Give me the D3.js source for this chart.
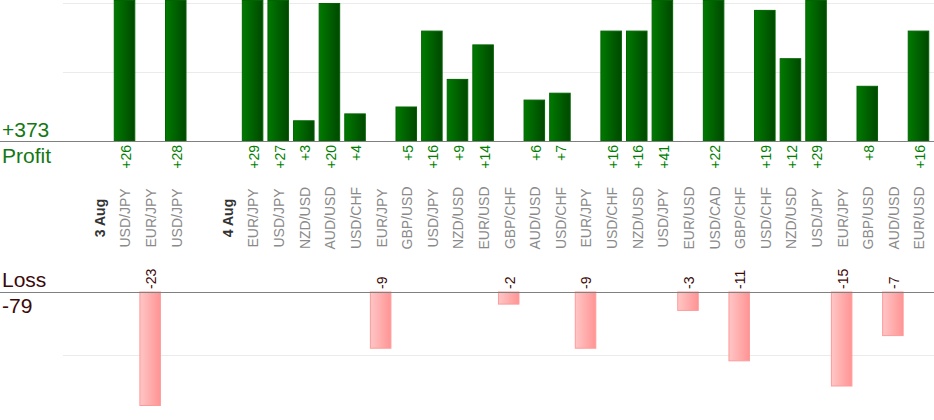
<!DOCTYPE html>
<html>

<head>
    <meta charset="utf-8">
    <title>Profit and Loss by Trade</title>
    <script src="https://d3js.org/d3.v7.min.js"></script>
    <style>
        body { margin: 0; background: #fff; }
        text { font-family: "Liberation Sans", Arial, sans-serif; }
    </style>
</head>

<body>
    <div id="chart"></div>

    <script>
        // slots along the x axis: blanks, date headers and trades
        const slotLabels = ["", "3 Aug", "USD/JPY", "EUR/JPY", "USD/JPY",
            "", "4 Aug", "EUR/JPY", "USD/JPY", "NZD/USD", "AUD/USD", "USD/CHF",
            "EUR/JPY", "GBP/USD", "USD/JPY", "NZD/USD", "EUR/USD", "GBP/CHF",
            "AUD/USD", "USD/CHF", "EUR/JPY", "USD/CHF", "NZD/USD", "USD/JPY",
            "EUR/USD", "USD/CAD", "GBP/CHF", "USD/CHF", "NZD/USD", "USD/JPY",
            "EUR/JPY", "GBP/USD", "AUD/USD", "EUR/USD"];
        const dateLabels = ["3 Aug", "4 Aug"];
        // result of each trade in pips (null = no trade in that slot)
        const results = [null, null, 26, -23, 28,
            null, null, 29, 27, 3, 20, 4,
            -9, 5, 16, 9, 14, -2,
            6, 7, -9, 16, 16, 41,
            -3, 22, -11, 19, 12, 29,
            -15, 8, -7, 16];
        const gridTicks = [10, 20];

        const width = 934, height = 420;
        const profitBase = 141, lossBase = 292, lossBottom = 406;

        const totalProfit = d3.sum(results.filter(v => v > 0));
        const totalLoss = d3.sum(results.filter(v => v < 0));

        const svg = d3.select("#chart")
            .append("svg")
            .attr("width", width)
            .attr("height", height);

        const defs = svg.append("defs");
        const pg = defs.append("linearGradient").attr("id", "profitGrad")
            .attr("x1", 0).attr("x2", 1).attr("y1", 0).attr("y2", 0);
        pg.append("stop").attr("offset", "0%").attr("stop-color", "#007a00");
        pg.append("stop").attr("offset", "100%").attr("stop-color", "#004800");
        const lg = defs.append("linearGradient").attr("id", "lossGrad")
            .attr("x1", 0).attr("x2", 1).attr("y1", 0).attr("y2", 0);
        lg.append("stop").attr("offset", "0%").attr("stop-color", "#ffc6c6");
        lg.append("stop").attr("offset", "100%").attr("stop-color", "#ff9494");

        const idx = d3.range(slotLabels.length);

        const x = d3.scaleBand()
            .domain(idx)
            .range([60.5, 931.3])
            .paddingInner(0.16)
            .paddingOuter(0.08);

        const yP = d3.scaleLinear()
            .domain([0, profitBase / 6.9])
            .range([profitBase, 0])
            .clamp(true);

        const yL = d3.scaleLinear()
            .domain([0, (lossBottom - lossBase) / 6.3])
            .range([lossBase, lossBottom])
            .clamp(true);

        // grid lines
        svg.append("g").selectAll("line")
            .data(gridTicks)
            .join("line")
            .attr("x1", 63).attr("x2", width)
            .attr("y1", d => Math.round(yP(d)) + 0.5)
            .attr("y2", d => Math.round(yP(d)) + 0.5)
            .attr("stroke", "#ebebeb");
        svg.append("g").selectAll("line")
            .data(gridTicks.filter(d => yL(d) < lossBottom))
            .join("line")
            .attr("x1", 63).attr("x2", width)
            .attr("y1", d => Math.round(yL(d)) + 0.5)
            .attr("y2", d => Math.round(yL(d)) + 0.5)
            .attr("stroke", "#ebebeb");

        const trades = idx.filter(i => results[i] !== null);
        const wins = trades.filter(i => results[i] > 0);
        const losses = trades.filter(i => results[i] < 0);

        // profit bars
        svg.append("g").selectAll("rect")
            .data(wins)
            .join("rect")
            .attr("x", i => x(i) + 0.5)
            .attr("y", i => yP(results[i]) + 0.5)
            .attr("width", x.bandwidth() - 1)
            .attr("height", i => profitBase - yP(results[i]) - 0.5)
            .attr("fill", "url(#profitGrad)")
            .attr("stroke", "#006400")
            .attr("stroke-width", 1);

        // loss bars
        svg.append("g").selectAll("rect")
            .data(losses)
            .join("rect")
            .attr("x", i => x(i) + 0.5)
            .attr("y", lossBase)
            .attr("width", x.bandwidth() - 1)
            .attr("height", i => yL(-results[i]) - lossBase - 0.5)
            .attr("fill", "url(#lossGrad)")
            .attr("stroke", "#ff9a9a")
            .attr("stroke-width", 1);

        // base lines
        [profitBase, lossBase].forEach(b => {
            svg.append("line")
                .attr("x1", 0).attr("x2", width)
                .attr("y1", b + 0.5).attr("y2", b + 0.5)
                .attr("stroke", "#808080");
        });

        // value labels
        svg.append("g").selectAll("text")
            .data(wins)
            .join("text")
            .attr("transform", i => `translate(${x(i) + x.bandwidth() / 2 + 1.5},${profitBase + 4})rotate(-90)`)
            .attr("dy", "0.35em")
            .attr("text-anchor", "end")
            .attr("font-size", 14)
            .attr("fill", "#008000")
            .text(i => "+" + results[i]);

        svg.append("g").selectAll("text")
            .data(losses)
            .join("text")
            .attr("transform", i => `translate(${x(i) + x.bandwidth() / 2 + 1},${lossBase - 3})rotate(-90)`)
            .attr("dy", "0.35em")
            .attr("text-anchor", "start")
            .attr("font-size", 14)
            .attr("fill", "#3c0808")
            .text(i => results[i]);

        // category / date labels
        svg.append("g").selectAll("text")
            .data(idx.filter(i => slotLabels[i] !== ""))
            .join("text")
            .attr("transform", i => `translate(${x(i) + x.bandwidth() / 2 + 1},218)rotate(-90)`)
            .attr("dy", "0.35em")
            .attr("text-anchor", "middle")
            .attr("font-size", i => dateLabels.includes(slotLabels[i]) ? 14 : 14)
            .attr("font-weight", i => dateLabels.includes(slotLabels[i]) ? "bold" : "normal")
            .attr("fill", i => dateLabels.includes(slotLabels[i]) ? "#333" : "#8a8a8a")
            .text(i => slotLabels[i]);

        // totals on the left
        const side = svg.append("g").attr("font-size", 21);
        side.append("text").attr("x", 2).attr("y", 137).attr("fill", "#137813")
            .text("+" + totalProfit);
        side.append("text").attr("x", 2).attr("y", 163).attr("fill", "#137813")
            .text("Profit");
        side.append("text").attr("x", 2).attr("y", 287).attr("fill", "#3a0a0a")
            .text("Loss");
        side.append("text").attr("x", 2).attr("y", 313).attr("fill", "#3a0a0a")
            .text(totalLoss);
    </script>
</body>

</html>
